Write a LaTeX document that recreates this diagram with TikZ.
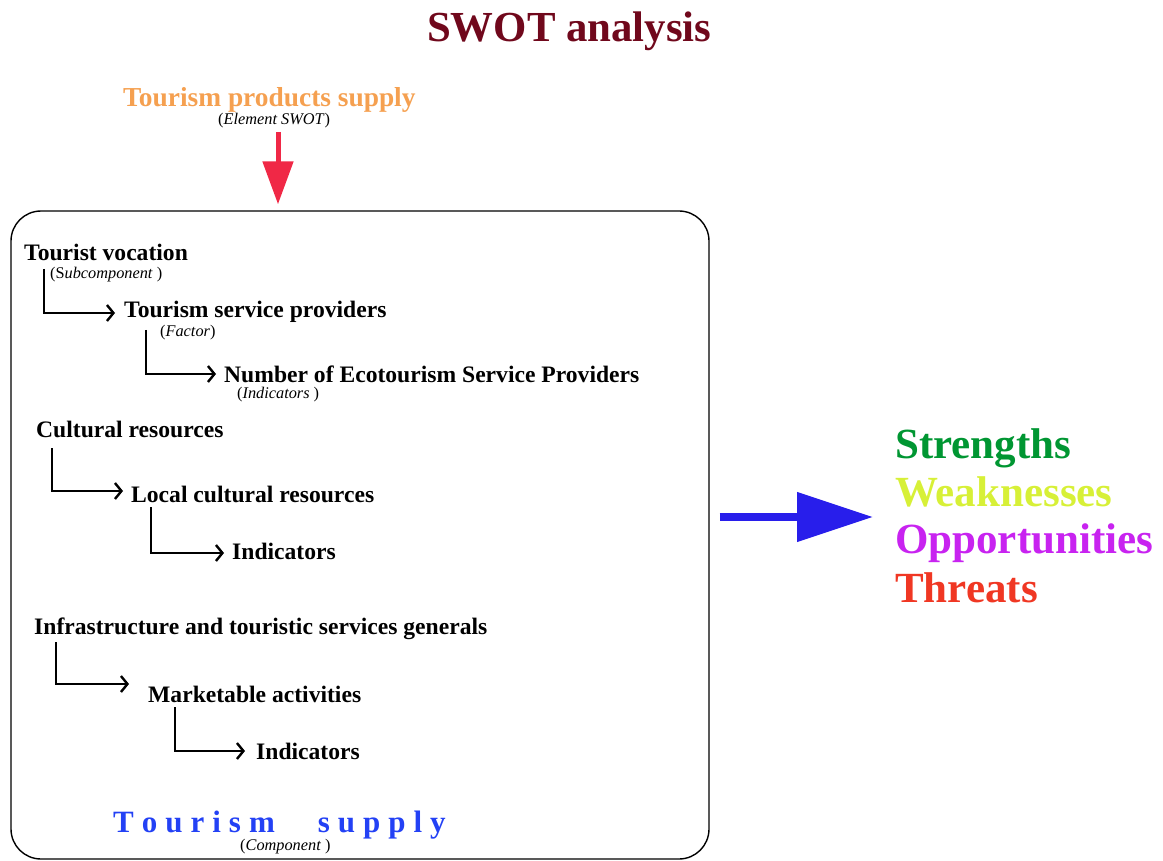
\documentclass[tikz,border=0pt]{standalone}
\usepackage{fontspec}
\setmainfont{Liberation Serif}
\usetikzlibrary{arrows.meta,calc}
\definecolor{titlered}{RGB}{112,8,28}
\definecolor{orangeT}{RGB}{245,160,80}
\definecolor{arrowred}{RGB}{240,40,70}
\definecolor{supblue}{RGB}{35,65,245}
\definecolor{arrowblue}{RGB}{40,30,235}
\definecolor{sgreen}{RGB}{0,150,50}
\definecolor{wyellow}{RGB}{215,240,55}
\definecolor{opurple}{RGB}{200,35,240}
\definecolor{tred}{RGB}{240,55,35}
\begin{document}
\begin{tikzpicture}[x=1pt,y=-1pt,
  lvl/.style={anchor=base west, inner sep=0pt, font=\bfseries\fontsize{23.6}{27}\selectfont},
  sub/.style={anchor=base west, inner sep=0pt, font=\fontsize{16.3}{18}\selectfont},
  swot/.style={anchor=base west, inner sep=0pt, font=\bfseries\fontsize{43}{48}\selectfont},
  conn/.style={line width=1.5pt, -{Straight Barb[length=6.5pt,width=16pt,line width=2.4pt]}}]
\useasboundingbox (0,0) rectangle (1163,861);
% title
\node[anchor=base west, inner sep=0pt, text=titlered, font=\bfseries\fontsize{42.8}{46}\selectfont] (title) at (427,42) {SWOT analysis};
\node[anchor=base west, inner sep=0pt, text=orangeT, font=\bfseries\fontsize{27.4}{30}\selectfont] (tps) at (123,107) {Tourism products supply};
\node[sub] (es) at (218,125) {(\textit{Element SWOT})};
% box
\node[draw, line width=1.4pt, rounded corners=30pt, minimum width=698pt, minimum height=648pt, inner sep=0pt] (box) at (360,535) {};
% red arrow
\coordinate (ra) at ($(es.base west)+(60,7)$);
\draw[arrowred, line width=5pt, -{Triangle[length=43pt,width=30pt]}] (ra) -- ([yshift=6pt]ra |- box.north);
% group 1
\node[lvl] (tv) at (24,261) {Tourist vocation};
\node[sub] (tvs) at (50,279) {(S\textit{ubcomponent} )};
\node[lvl] (tsp) at (124,318) {Tourism service providers};
\node[sub] (tsps) at (160,337) {(\textit{Factor})};
\node[lvl] (num) at (224,382) {Number of Ecotourism Service Providers};
\node[sub] (nums) at (237,398) {(\textit{Indicators} )};
\draw[conn] ($(tv.base west)+(20,8)$) |- ($(tsp.base west)+(-9,-5)$);
\draw[conn] ($(tsp.base west)+(22,12)$) |- ($(num.base west)+(-8,-8)$);
% group 2
\node[lvl] (cr) at (36,437) {Cultural resources};
\node[lvl] (lcr) at (131,502) {Local cultural resources};
\node[lvl] (ind1) at (232,559) {Indicators};
\draw[conn] ($(cr.base west)+(16,11)$) |- ($(lcr.base west)+(-8,-11)$);
\draw[conn] ($(lcr.base west)+(20,5)$) |- ($(ind1.base west)+(-8,-6)$);
% group 3
\node[lvl] (inf) at (34,634) {Infrastructure and touristic services generals};
\node[lvl] (ma) at (148,702) {Marketable activities};
\node[lvl] (ind2) at (256,759) {Indicators};
\draw[conn] ($(inf.base west)+(22,8)$) |- ($(ma.base west)+(-19,-18)$);
\draw[conn] ($(ma.base west)+(27,5)$) |- ($(ind2.base west)+(-11,-8)$);
% component
\def\tk{\kern8pt}
\node[anchor=base west, inner sep=0pt, text=supblue, font=\bfseries\fontsize{31}{34}\selectfont] (ts) at (113,832) {T\tk o\tk u\tk r\tk i\tk s\tk m\hskip 43pt s\tk u\tk p\tk p\tk l\tk y};
\node[sub] (tss) at (240,850) {(\textit{Component} )};
% SWOT words
\node[swot, text=sgreen] (s) at (895,458) {Strengths};
\node[swot, text=wyellow] (w) at (895,506) {Weaknesses};
\node[swot, text=opurple] (o) at (895,553) {Opportunities};
\node[swot, text=tred] (t) at (895,602) {Threats};
% blue arrow
\coordinate (ba) at ($(box.east)+(10,-18)$);
\coordinate (bb) at ($(s.base west)+(-22,59)$);
\draw[arrowblue, line width=8pt, -{Triangle[length=76pt,width=48pt]}] (ba) -- (ba -| bb);
\end{tikzpicture}
\end{document}
